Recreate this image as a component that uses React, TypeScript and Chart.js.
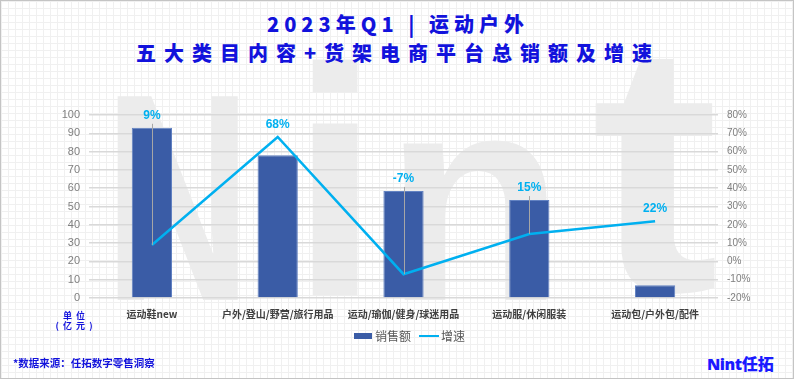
import { useEffect, useRef } from "react";
import { Chart, registerables } from "chart.js";

Chart.register(...registerables);

const categories = [
  "运动鞋new",
  "户外/登山/野营/旅行用品",
  "运动/瑜伽/健身/球迷用品",
  "运动服/休闲服装",
  "运动包/户外包/配件",
];
const salesValues = [93, 78, 58.5, 53.5, 7];
const growthValues = [9, 68, -7, 15, 22];
const salesLabel = "销售额";
const growthLabel = "增速";
const titleLine1 = "2023年Q1 | 运动户外";
const titleLine2 = "五大类目内容+货架电商平台总销额及增速";
const footnote = "*数据来源：任拓数字零售洞察";

const BAR_COLOR = "#3a5ca6";
const LINE_COLOR = "#00b0f0";
const BLUE = "#1212dc";
const FONT = "'Liberation Sans', 'Noto Sans CJK SC', sans-serif";
const CJK = "'Noto Sans CJK SC', 'Liberation Sans', sans-serif";

const labelPlugin = {
  id: "growthLabels",
  afterDatasetsDraw(chart: any) {
    const ctx = chart.ctx;
    const lineMeta = chart.getDatasetMeta(0);
    const barMeta = chart.getDatasetMeta(1);
    ctx.save();
    growthValues.forEach((v, i) => {
      const pt = lineMeta.data[i];
      const bar = barMeta.data[i];
      if (!pt || !bar) return;
      const labelY = Math.min(bar.y, pt.y) - 12;
      if (pt.y - labelY > 25) {
        ctx.strokeStyle = "#a6a6a6";
        ctx.lineWidth = 1;
        ctx.beginPath();
        ctx.moveTo(Math.round(pt.x) + 0.5, labelY + 8);
        ctx.lineTo(Math.round(pt.x) + 0.5, pt.y);
        ctx.stroke();
      }
      ctx.fillStyle = LINE_COLOR;
      ctx.font = `bold 12px ${FONT}`;
      ctx.textAlign = "center";
      ctx.textBaseline = "middle";
      ctx.fillText(`${v}%`, pt.x, labelY);
    });
    ctx.restore();
  },
};

export default function App() {
  const canvasRef = useRef<HTMLCanvasElement | null>(null);

  useEffect(() => {
    if (!canvasRef.current) return;
    const chart = new Chart(canvasRef.current, {
      data: {
        labels: categories,
        datasets: [
          {
            type: "line",
            label: growthLabel,
            data: growthValues,
            yAxisID: "y1",
            borderColor: LINE_COLOR,
            borderWidth: 2.5,
            pointRadius: 0,
            tension: 0,
            order: 0,
          } as any,
          {
            type: "bar",
            label: salesLabel,
            data: salesValues,
            yAxisID: "y",
            backgroundColor: BAR_COLOR,
            borderColor: "#6282c2",
            borderWidth: 1,
            categoryPercentage: 1,
            barPercentage: 0.32,
            order: 1,
          } as any,
        ],
      },
      options: {
        responsive: false,
        animation: false,
        layout: { padding: { top: 114, left: 0, right: 0, bottom: 0 } },
        plugins: { legend: { display: false }, tooltip: { enabled: false } },
        scales: {
          x: {
            grid: { display: false, drawTicks: false },
            border: { display: false },
            ticks: {
              color: "#404040",
              font: { size: 10, weight: "bold", family: CJK },
              padding: 10,
              maxRotation: 0,
              autoSkip: false,
            },
            afterFit: (s: any) => {
              s.height = 43;
            },
          },
          y: {
            position: "left",
            min: 0,
            max: 100,
            ticks: {
              stepSize: 10,
              color: "#7f7f7f",
              font: { size: 11, family: FONT },
              padding: 9,
            },
            grid: { color: "#d9d9d9", lineWidth: 1.5, drawTicks: false },
            border: { display: false },
            afterFit: (s: any) => {
              s.width = 88;
            },
          },
          y1: {
            position: "right",
            min: -20,
            max: 80,
            ticks: {
              stepSize: 10,
              color: "#7f7f7f",
              font: { size: 10, family: FONT },
              padding: 9,
              callback: (v: any) => `${v}%`,
            },
            grid: { display: false, drawTicks: false },
            border: { display: false },
            afterFit: (s: any) => {
              s.width = 77;
            },
          },
        },
      } as any,
      plugins: [labelPlugin],
    });
    return () => chart.destroy();
  }, []);

  const wm = (ch: string, left: number, top: number, sx: number, sy = 1) => (
    <div
      style={{
        position: "absolute",
        left,
        top,
        fontFamily: "'Liberation Sans', sans-serif",
        fontWeight: 700,
        fontSize: 296,
        lineHeight: "296px",
        color: "#ececec",
        transform: `scale(${sx}, ${sy})`,
        transformOrigin: "left bottom",
        whiteSpace: "pre",
      }}
    >
      {ch}
    </div>
  );

  return (
    <div
      style={{
        position: "absolute",
        left: 0,
        top: 0,
        width: 794,
        height: 379,
        boxSizing: "border-box",
        border: "1px solid #c4c4c4",
        overflow: "hidden",
        backgroundColor: "#ffffff",
        backgroundImage:
          "linear-gradient(#f0f0f0 1px, transparent 1px), linear-gradient(90deg, #f0f0f0 1px, transparent 1px)",
        backgroundSize: "7px 7px",
        fontFamily: CJK,
      }}
    >
      {wm("N", 103, 49, 0.69)}
      {wm("i", 289, 49, 1.1, 1.1)}
      {wm("n", 383, 49, 1.0)}
      {wm("t", 590, 49, 1.3, 1.2)}
      <div
        style={{
          position: "absolute",
          left: 0,
          width: 794,
          top: 10,
          textAlign: "center",
          color: BLUE,
          fontWeight: 900,
          fontSize: 20,
          lineHeight: "26px",
          letterSpacing: 5,
          whiteSpace: "pre",
        }}
      >
        {titleLine1}
      </div>
      <div
        style={{
          position: "absolute",
          left: 0,
          width: 794,
          top: 39,
          textAlign: "center",
          color: BLUE,
          fontWeight: 900,
          fontSize: 20,
          lineHeight: "26px",
          letterSpacing: 8,
          whiteSpace: "pre",
        }}
      >
        {titleLine2}
      </div>
      <canvas
        ref={canvasRef}
        width={794}
        height={340}
        style={{ position: "absolute", left: 0, top: 0, width: 794, height: 340 }}
      />
      <div
        style={{
          position: "absolute",
          left: 43,
          width: 60,
          top: 310,
          textAlign: "center",
          color: BLUE,
          fontWeight: 700,
          fontSize: 9,
          lineHeight: "10px",
          whiteSpace: "pre",
        }}
      >
        {"单  位\n(  亿  元  )"}
      </div>
      <div
        style={{
          position: "absolute",
          left: 353,
          top: 327,
          display: "flex",
          alignItems: "center",
          fontSize: 12,
          color: "#595959",
          lineHeight: "16px",
        }}
      >
        <span style={{ display: "inline-block", width: 18, height: 6, background: BAR_COLOR, marginRight: 3 }} />
        <span>{salesLabel}</span>
        <span style={{ display: "inline-block", width: 20, height: 2.5, background: LINE_COLOR, marginLeft: 8, marginRight: 2 }} />
        <span>{growthLabel}</span>
      </div>
      <div
        style={{
          position: "absolute",
          left: 12,
          top: 355,
          color: BLUE,
          fontWeight: 700,
          fontSize: 10.5,
          lineHeight: "14px",
          whiteSpace: "pre",
        }}
      >
        {footnote}
      </div>
      <div
        style={{
          position: "absolute",
          left: 706,
          top: 353,
          color: "#1a1aff",
          fontWeight: 900,
          fontSize: 16,
          lineHeight: "19px",
          whiteSpace: "pre",
        }}
      >
        <span style={{ fontFamily: "'Open Sans', sans-serif", letterSpacing: -0.5 }}>Nint</span>
        <span>任拓</span>
      </div>
    </div>
  );
}
